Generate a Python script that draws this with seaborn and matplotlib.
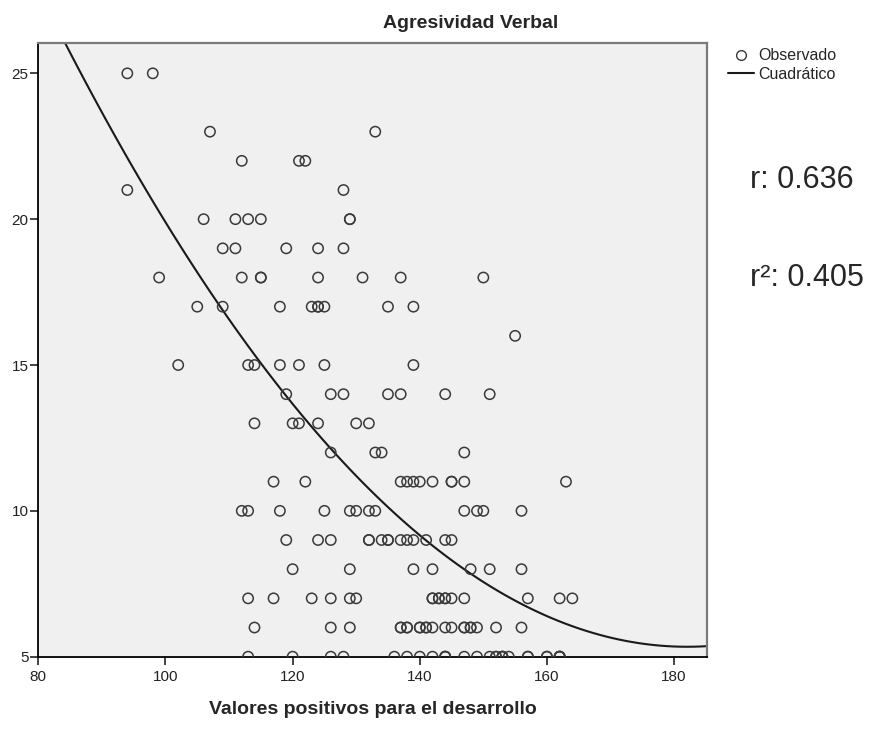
import pandas as pd
import matplotlib.pyplot as plt
import seaborn as sns
from matplotlib.lines import Line2D

# valores positivos (x), one list per agresividad level (y);
# repeated values are circles drawn on top of each other
ag_25 = [94, 98]
ag_23 = [107, 133]
ag_22 = [112, 121, 122]
ag_21 = [94, 128]
ag_20 = [106, 111, 113, 115, 129, 129]
ag_19 = [109, 111, 119, 124, 128]
ag_18 = [99, 112, 115, 115, 124, 131, 137, 150]
ag_17 = [105, 109, 118, 123, 124, 124, 125, 135, 139]
ag_16 = [155]
ag_15 = [102, 113, 114, 118, 121, 125, 139]
ag_14 = [119, 126, 128, 135, 137, 144, 151]
ag_13 = [114, 120, 121, 124, 130, 132]
ag_12 = [126, 133, 134, 147]
ag_11 = [117, 122, 137, 138, 139, 140, 142, 145, 145, 147, 163]
ag_10 = [112, 113, 118, 125, 129, 130, 132, 133, 147, 149, 150, 156]
ag_9 = [119, 124, 126, 132, 132, 134, 135, 135, 137, 138, 139, 141, 144, 145]
ag_8 = [120, 129, 139, 142, 148, 151, 156]
ag_7 = [113, 117, 123, 126, 129, 130, 142, 142, 143, 143, 144, 144, 145, 147, 157,
        162, 164]
ag_6 = [114, 126, 129, 137, 137, 138, 138, 140, 140, 141, 141, 142, 144, 145, 147,
        147, 148, 148, 149, 152, 156]
ag_5 = [113, 120, 126, 128, 136, 138, 140, 142, 144, 144, 144, 147, 149, 151, 152,
        152, 153, 153, 153, 154, 157, 157, 160, 160, 162, 162, 162, 162]

rows = [(25, ag_25), (23, ag_23), (22, ag_22), (21, ag_21), (20, ag_20), (19, ag_19),
        (18, ag_18), (17, ag_17), (16, ag_16), (15, ag_15), (14, ag_14), (13, ag_13),
        (12, ag_12), (11, ag_11), (10, ag_10), (9, ag_9), (8, ag_8), (7, ag_7),
        (6, ag_6), (5, ag_5)]

x_ticks = [80, 100, 120, 140, 160, 180]
y_ticks = [5, 10, 15, 20, 25]

df = pd.DataFrame([(x, y) for y, xs in rows for x in xs], columns=['valores', 'agresividad'])

sns.set_style('white')
plt.rcParams['font.family'] = ['Liberation Sans', 'DejaVu Sans']

fig = plt.figure(figsize=(8.73, 7.29), dpi=100)
ax = fig.add_axes([0.0439, 0.0992, 0.7661, 0.8414])
ax.set_facecolor('#f0f0f0')
ax.set_xlim(80, 185.2)
ax.set_ylim(5, 26.03)

sns.scatterplot(data=df, x='valores', y='agresividad', ax=ax, marker='o', s=55,
                facecolor='none', edgecolor='#3a3a3a', linewidth=1.1, zorder=3)
# quadratic fit drawn across the whole axis, as in the original
sns.regplot(data=df, x='valores', y='agresividad', ax=ax, order=2, ci=None,
            scatter=False, truncate=False, color='#1a1a1a', line_kws={'linewidth': 1.5})
ax.set_xlim(80, 185.2)
ax.set_ylim(5, 26.03)

ax.set_xticks(x_ticks)
ax.set_yticks(y_ticks)
ax.tick_params(axis='both', direction='out', length=6, width=1.2, labelsize=11,
               colors='#222222', bottom=True, left=True)
ax.tick_params(axis='y', pad=1)
for side in ['left', 'bottom']:
    ax.spines[side].set_color('black')
    ax.spines[side].set_linewidth(1.3)
for side in ['top', 'right']:
    ax.spines[side].set_color('#7a7a7a')
    ax.spines[side].set_linewidth(1.6)

ax.set_xlabel('Valores positivos para el desarrollo', fontsize=14, fontweight='bold',
              labelpad=12)
ax.set_ylabel('')

fig.text(471 / 873, 1 - 24 / 729, 'Agresividad Verbal', ha='center', va='center',
         fontsize=14, fontweight='bold')

handles = [Line2D([], [], marker='o', linestyle='none', markerfacecolor='none',
                  markeredgecolor='#3a3a3a', markersize=7, markeredgewidth=1.0),
           Line2D([], [], color='#1a1a1a', linewidth=1.5)]
fig.legend(handles, ['Observado', 'Cuadrático'], loc='upper left',
           bbox_to_anchor=(722 / 873, 1 - 42 / 729), frameon=False, fontsize=11.5,
           handlelength=1.6, handletextpad=0.3, labelspacing=0.2, borderaxespad=0)

fig.text(750 / 873, 1 - 180 / 729, 'r: 0.636', ha='left', va='center', fontsize=22)
fig.text(750 / 873, 1 - 278 / 729, 'r²: 0.405', ha='left', va='center', fontsize=22)

fig.savefig('out.png', dpi=100)
